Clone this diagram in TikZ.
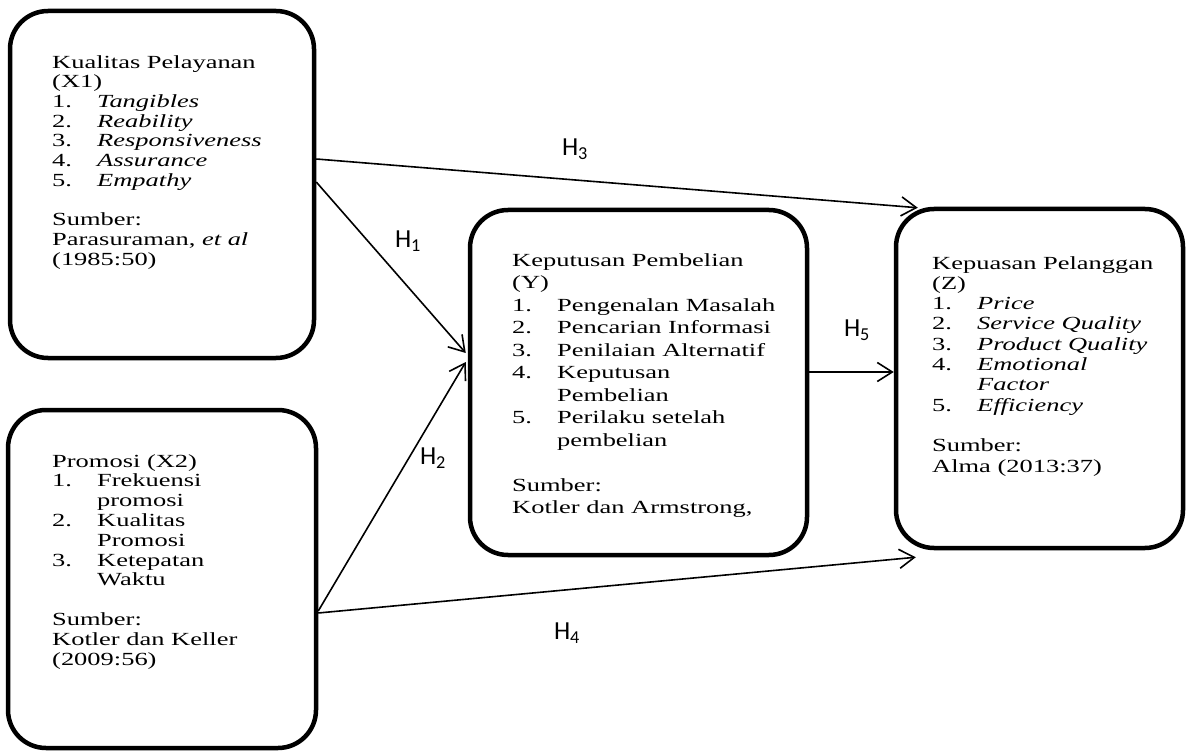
\documentclass[tikz,border=0pt]{standalone}
\usepackage{fontspec}
\setmainfont{Liberation Serif}[FakeStretch=1.43]
\newfontfamily\hfont{Carlito}
\usetikzlibrary{arrows.meta}
\newcommand{\itm}[2]{\makebox[45pt][l]{#1}#2}
\newcommand{\cnt}[1]{\hspace*{45pt}#1}
\begin{document}
\begin{tikzpicture}[x=1pt,y=-1pt,
  box/.style={draw, line width=4.5pt, rounded corners=38pt, inner sep=0pt},
  txt/.style={anchor=north west, inner sep=0pt, align=left},
  conn/.style={line width=1.6pt, -{Straight Barb[length=15pt,width=19pt,line width=1.6pt]}},
  hl/.style={font=\hfont\fontsize{26}{26}\selectfont, inner sep=0pt}]
\useasboundingbox (0,0) rectangle (1187,754);
% boxes
\node[box, minimum width=304pt, minimum height=347pt] (x1) at (162,184.5) {};
\node[box, minimum width=308pt, minimum height=338pt] (x2) at (162,579) {};
\node[box, minimum width=337pt, minimum height=345pt] (y) at (638.5,382.5) {};
\node[box, minimum width=287pt, minimum height=339pt] (z) at (1039.5,378.5) {};
% texts
\node[txt, font=\fontsize{18.5}{19.7}\selectfont] (x1t) at (52,55)
 {Kualitas Pelayanan\\(X1)\\\itm{1.}{\textit{Tangibles}}\\\itm{2.}{\textit{Reability}}\\\itm{3.}{\textit{Responsiveness}}\\\itm{4.}{\textit{Assurance}}\\\itm{5.}{\textit{Empathy}}\\[19.7pt]Sumber:\\Parasuraman, \textit{et al}\\(1985:50)};
\node[txt, font=\fontsize{18.5}{19.8}\selectfont] (x2t) at (52,454)
 {Promosi (X2)\\\itm{1.}{Frekuensi}\\\cnt{promosi}\\\itm{2.}{Kualitas}\\\cnt{Promosi}\\\itm{3.}{Ketepatan}\\\cnt{Waktu}\\[19.8pt]Sumber:\\Kotler dan Keller\\(2009:56)};
\node[txt, font=\fontsize{18.5}{22.5}\selectfont] (yt) at (512,253)
 {Keputusan Pembelian\\(Y)\\\itm{1.}{Pengenalan Masalah}\\\itm{2.}{Pencarian Informasi}\\\itm{3.}{Penilaian Alternatif}\\\itm{4.}{Keputusan}\\\cnt{Pembelian}\\\itm{5.}{Perilaku setelah}\\\cnt{pembelian}\\[22.5pt]Sumber:\\Kotler dan Armstrong,};
\node[txt, font=\fontsize{18.5}{20.3}\selectfont] (zt) at (932,256)
 {Kepuasan Pelanggan\\(Z)\\\itm{1.}{\textit{Price}}\\\itm{2.}{\textit{Service Quality}}\\\itm{3.}{\textit{Product Quality}}\\\itm{4.}{\textit{Emotional}}\\\cnt{\textit{Factor}}\\\itm{5.}{\textit{Efficiency}}\\[20.3pt]Sumber:\\Alma (2013:37)};
% connectors
\draw[conn] ([yshift=25.5pt]x1.east) -- ([xshift=24pt,yshift=-1pt]z.north west);
\draw[conn] ([yshift=2.5pt]x1.east) -- ([xshift=-2pt,yshift=29.5pt]y.west);
\draw[conn] ([yshift=-32pt]x2.east) -- ([xshift=-2pt,yshift=20.5pt]y.west);
\draw[conn] ([yshift=-34pt]x2.east) -- ([xshift=22pt,yshift=-7pt]z.south west);
\draw[conn] ([yshift=10.5pt]y.east) -- ([yshift=6.5pt]z.west);
% labels
\node[hl] (h3) at (575,149) {H\textsubscript{3}};
\node[hl] (h1) at (408,241) {H\textsubscript{1}};
\node[hl] (h2) at (433,458) {H\textsubscript{2}};
\node[hl] (h4) at (567,633) {H\textsubscript{4}};
\node[hl] (h5) at (857,330) {H\textsubscript{5}};
\end{tikzpicture}
\end{document}
